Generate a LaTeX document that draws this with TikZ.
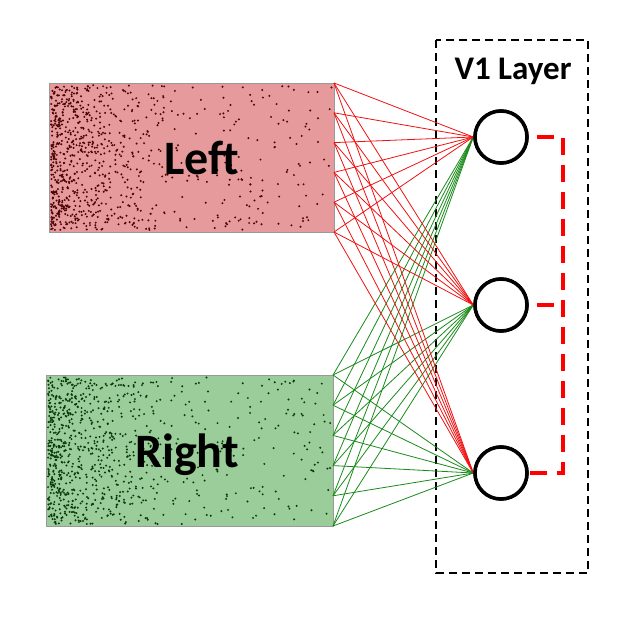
\documentclass[tikz,border=0pt]{standalone}
\usepackage{fontspec}
\setmainfont{Carlito}
\definecolor{boxred}{HTML}{E69A9B}
\definecolor{boxgreen}{HTML}{9BCD9B}
\definecolor{dotred}{HTML}{4A0505}
\definecolor{dotgreen}{HTML}{0A3A0A}
\definecolor{linered}{HTML}{F01010}
\definecolor{linegreen}{HTML}{1A8A1A}
\begin{document}
\begin{tikzpicture}[x=1pt,y=-1pt,
  neuron/.style={circle,draw=black,line width=3.5pt,fill=white,minimum size=52pt,inner sep=0pt},
  inbox/.style={draw=black!40,line width=0.8pt,inner sep=0pt},
  redlink/.style={draw=linered,line width=0.8pt},
  greenlink/.style={draw=linegreen,line width=0.8pt},
  layerbox/.style={draw=black,line width=1.8pt,dash pattern=on 8pt off 5pt},
  lateral/.style={draw=red,line width=4pt,dash pattern=on 17pt off 10pt,dash phase=19pt},
  bigtxt/.style={font=\bfseries\fontsize{48}{50}\selectfont,inner sep=0pt,anchor=base}
]
\useasboundingbox (0,0) rectangle (629,629);
% input boxes
\fill[boxred] (49,83) rectangle (334,232);
\fill[boxgreen] (46,375) rectangle (333,526);
\pgfmathsetseed{7}
\foreach \i in {1,...,650}{
  \fill[dotred] ({51+140*rnd*rnd},{85+145*rnd}) circle (1.1);
}
\foreach \i in {1,...,260}{
  \fill[dotred] ({51+281*rnd},{85+145*rnd}) circle (1.1);
}
\foreach \i in {1,...,650}{
  \fill[dotgreen] ({48+140*rnd*rnd},{377+147*rnd}) circle (1.1);
}
\foreach \i in {1,...,260}{
  \fill[dotgreen] ({48+283*rnd},{377+147*rnd}) circle (1.1);
}
\node[inbox,minimum width=285pt,minimum height=149pt] (leftbox) at (191.5,157.5) {};
\node[inbox,minimum width=287pt,minimum height=151pt] (rightbox) at (189.5,450.5) {};
\node[bigtxt] (lefttxt) at (202,174) {Left};
\node[bigtxt] (righttxt) at (187,467) {Right};
% layer box
\draw[layerbox] (436,40) rectangle (588,573);
\node[font=\bfseries\fontsize{33}{35}\selectfont,inner sep=0pt,anchor=base] (v1) at (513,79) {V1 Layer};
% neurons
\node[neuron] (n1) at (501,137) {};
\node[neuron] (n2) at (501,305) {};
\node[neuron] (n3) at (501,473) {};
% source points
\foreach \k in {0,...,5}{
  \coordinate (L\k) at (334,{83+29.8*\k});
  \coordinate (R\k) at (333,{375+30.2*\k});
}
% connections
\foreach \k in {0,...,5}{
  \foreach \n in {n1,n2,n3}{
    \draw[greenlink] (R\k) -- (\n.west);
  }
}
\foreach \k in {0,...,5}{
  \foreach \n in {n1,n2,n3}{
    \draw[redlink] (L\k) -- (\n.west);
  }
}
% redraw neurons on top
\node[neuron] at (n1) {};
\node[neuron] at (n2) {};
\node[neuron] at (n3) {};
% lateral connections
\coordinate (c1) at (563,137);
\coordinate (c2) at (563,305);
\coordinate (c3) at (563,473);
\draw[lateral] (n1.east) -- (c1) -- (c3) -- (n3.east);
\draw[lateral] (n2.east) -- (c2);
\end{tikzpicture}
\end{document}
